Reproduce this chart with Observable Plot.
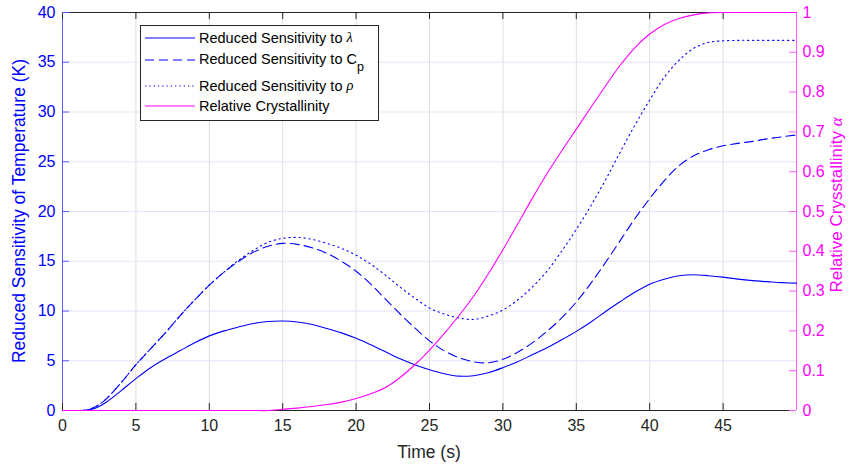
<!DOCTYPE html>
<html><head><meta charset="utf-8">
<script src="https://cdn.jsdelivr.net/npm/d3@7"></script>
<script src="https://cdn.jsdelivr.net/npm/@observablehq/plot@0.6"></script>
<style>body{margin:0;background:#fff;} svg{display:block}</style>
</head><body><div id="chart"></div>
<script>
// ---- data ----
const time          = [0, 1, 1.5, 2, 2.5, 3, 4, 5, 6, 7, 8, 9, 10, 11, 12, 13, 14, 15, 16, 17, 18, 19, 20, 21, 22, 23, 24, 25, 26, 27, 28, 29, 30, 31, 32, 33, 34, 35, 36, 37, 38, 39, 40, 41, 42, 43, 44, 45, 46, 47, 48, 49, 50];
const sensLambda    = [0, 0, 0.02, 0.12, 0.4, 0.85, 2.0, 3.2, 4.3, 5.2, 6.0, 6.8, 7.5, 8.0, 8.4, 8.75, 8.95, 9.0, 8.9, 8.65, 8.25, 7.8, 7.25, 6.6, 5.9, 5.2, 4.6, 4.1, 3.7, 3.45, 3.5, 3.8, 4.3, 4.9, 5.6, 6.3, 7.1, 7.95, 8.9, 9.95, 10.95, 11.9, 12.7, 13.2, 13.55, 13.65, 13.55, 13.4, 13.2, 13.05, 12.95, 12.85, 12.8];
const sensCp        = [0, 0, 0.02, 0.2, 0.6, 1.2, 2.8, 4.6, 6.2, 7.8, 9.5, 11.1, 12.6, 13.9, 15.0, 15.9, 16.5, 16.8, 16.7, 16.35, 15.8, 15.0, 14.0, 12.7, 11.2, 9.7, 8.3, 7.0, 6.0, 5.3, 4.9, 4.8, 5.15, 5.85, 6.8, 7.95, 9.3, 10.9, 12.8, 14.9, 17.1, 19.3, 21.3, 23.1, 24.6, 25.6, 26.2, 26.6, 26.85, 27.05, 27.3, 27.5, 27.7];
const sensRho       = [0, 0, 0.02, 0.2, 0.6, 1.2, 2.8, 4.6, 6.2, 7.8, 9.5, 11.1, 12.6, 13.9, 15.1, 16.1, 16.9, 17.3, 17.4, 17.2, 16.8, 16.3, 15.6, 14.7, 13.6, 12.4, 11.3, 10.3, 9.7, 9.3, 9.15, 9.5, 10.1, 11.1, 12.4, 14.0, 16.0, 18.2, 20.6, 23.2, 26.0, 28.7, 31.2, 33.5, 35.2, 36.4, 37.0, 37.15, 37.2, 37.2, 37.2, 37.2, 37.2];
const crystallinity = [0, 0, 0, 0, 0, 0, 0, 0, 0, 0, 0, 0, 0, 0, 0, 0, 0, 0.003, 0.006, 0.01, 0.015, 0.021, 0.03, 0.042, 0.058, 0.083, 0.115, 0.152, 0.193, 0.238, 0.287, 0.343, 0.404, 0.468, 0.533, 0.595, 0.652, 0.707, 0.762, 0.816, 0.868, 0.912, 0.946, 0.97, 0.985, 0.994, 0.999, 1, 1, 1, 1, 1, 1];

const xTicks      = [0, 5, 10, 15, 20, 25, 30, 35, 40, 45];
const yTicksLeft  = [0, 5, 10, 15, 20, 25, 30, 35, 40];
const yTicksRight = [0, 0.1, 0.2, 0.3, 0.4, 0.5, 0.6, 0.7, 0.8, 0.9, 1];
const yTickRightLabels = ["0", "0.1", "0.2", "0.3", "0.4", "0.5", "0.6", "0.7", "0.8", "0.9", "1"];
const xLabel = "Time (s)";
const yLabelLeft = "Reduced Sensitivity of Temperature (K)";
const yLabelRight = "Relative Crysstallinity ";
const legendLabels = ["Reduced Sensitivity to ", "Reduced Sensitivity to C", "Reduced Sensitivity to ", "Relative Crystallinity"];

// ---- styling ----
const BLUE = "#0000ff", MAG = "#ff00ff", DARK = "#262626";
const BLUE_AX = "#5a5aff", MAG_AX = "#ff5aff";
const Y_MAX = 40, X_MAX = 50;
const FONT = "'Liberation Sans', Arial, Helvetica, sans-serif";
const CURVE = "catmull-rom";

const rows = time.map((t, i) => ({t, lambda: sensLambda[i], cp: sensCp[i], rho: sensRho[i], alpha: crystallinity[i]}));
const rightRows = yTicksRight.map((v, i) => ({v, label: yTickRightLabels[i]}));

const W = 849, H = 468, ml = 62, mr = 53, mt = 12, mb = 58;
const innerW = W - ml - mr, innerH = H - mt - mb, TK = 7;

const svg = Plot.plot({
  width: W, height: H,
  marginLeft: ml, marginRight: mr, marginTop: mt, marginBottom: mb,
  style: {fontFamily: FONT, background: "#fff", overflow: "visible"},
  x: {domain: [0, X_MAX], axis: null},
  y: {domain: [0, Y_MAX], axis: null},
  marks: [
    Plot.ruleX(xTicks, {x: d => d, stroke: "#dedede"}),
    Plot.ruleY(yTicksLeft, {y: d => d, stroke: "#e3e3f8"}),
    Plot.ruleY([Y_MAX], {stroke: DARK}),
    Plot.ruleY([0], {stroke: DARK}),
    Plot.ruleX([0], {stroke: BLUE_AX}),
    Plot.ruleX([X_MAX], {stroke: MAG_AX}),
    Plot.tickX(xTicks, {x: d => d, insetTop: innerH - TK, stroke: DARK}),
    Plot.tickX(xTicks, {x: d => d, insetBottom: innerH - TK, stroke: DARK}),
    Plot.tickY(yTicksLeft, {y: d => d, insetRight: innerW - TK, stroke: BLUE_AX}),
    Plot.tickY(yTicksRight, {y: d => d * Y_MAX, insetLeft: innerW - TK, stroke: MAG_AX}),
    Plot.line(rows, {x: "t", y: "lambda", stroke: BLUE, strokeWidth: 1.1, curve: CURVE}),
    Plot.line(rows, {x: "t", y: "cp", stroke: BLUE, strokeWidth: 1.1, strokeDasharray: "9,5", curve: CURVE}),
    Plot.line(rows, {x: "t", y: "rho", stroke: BLUE, strokeWidth: 1.1, strokeDasharray: "1.3,3.7", curve: CURVE}),
    Plot.line(rows, {x: "t", y: d => d.alpha * Y_MAX, stroke: MAG, strokeWidth: 1.1, curve: CURVE}),
    Plot.text(xTicks, {x: d => d, frameAnchor: "bottom", dy: 20, text: d => String(d), fill: DARK, fontSize: 16}),
    Plot.text(yTicksLeft, {y: d => d, frameAnchor: "left", dx: -7, textAnchor: "end", text: d => String(d), fill: BLUE, fontSize: 16}),
    Plot.text(rightRows, {y: d => d.v * Y_MAX, frameAnchor: "right", dx: 6, textAnchor: "start", text: "label", fill: MAG, fontSize: 16})
  ]
});
document.getElementById("chart").appendChild(svg);

const s = d3.select(svg);
const TITLE = 17.5;
// axis titles
s.append("text").attr("x", ml + innerW / 2).attr("y", 453).attr("text-anchor", "middle")
  .attr("dominant-baseline", "middle").attr("fill", DARK).attr("font-size", TITLE).attr("font-family", FONT).text(xLabel);
s.append("text").attr("transform", `translate(20,${mt + innerH / 2}) rotate(-90)`).attr("text-anchor", "middle")
  .attr("dominant-baseline", "middle").attr("fill", BLUE).attr("font-size", TITLE).attr("font-family", FONT).text(yLabelLeft);
const rt = s.append("text").attr("transform", `translate(838,${mt + innerH / 2 - 6}) rotate(-90)`).attr("text-anchor", "middle")
  .attr("dominant-baseline", "middle").attr("fill", MAG).attr("font-size", 17).attr("font-family", FONT);
rt.append("tspan").text(yLabelRight);
rt.append("tspan").attr("font-family", "'Liberation Serif', 'DejaVu Serif', serif").attr("font-style", "italic").text("α");

// legend
const lg = s.append("g").attr("font-family", FONT).attr("font-size", 14.5).attr("fill", "#000").attr("text-anchor", "start");
lg.append("rect").attr("x", 140.5).attr("y", 25.5).attr("width", 238).attr("height", 95)
  .attr("fill", "#fff").attr("stroke", DARK).attr("stroke-width", 1);
const rowsY = [39, 60, 87, 107];
const styles = [
  {stroke: BLUE, dash: null},
  {stroke: BLUE, dash: "9,5"},
  {stroke: BLUE, dash: "1.3,3"},
  {stroke: MAG, dash: null}
];
styles.forEach((st, i) => {
  const ly = rowsY[i] - (i === 1 ? 0 : 1);
  const ln = lg.append("line").attr("x1", 145).attr("x2", 195).attr("y1", ly).attr("y2", ly)
    .attr("stroke", st.stroke).attr("stroke-width", 1.1);
  if (st.dash) ln.attr("stroke-dasharray", st.dash);
  const tx = lg.append("text").attr("x", 199).attr("y", rowsY[i]).attr("dominant-baseline", "middle").attr("text-anchor", "start");
  tx.append("tspan").text(legendLabels[i]);
  if (i === 0) tx.append("tspan").attr("font-family", "'Liberation Serif', serif").attr("font-style", "italic").text("λ");
  if (i === 1) tx.append("tspan").attr("dy", 8).attr("font-size", 12.5).text("p");
  if (i === 2) tx.append("tspan").attr("font-family", "'Liberation Serif', serif").attr("font-style", "italic").text("ρ");
});
</script>
</body></html>
